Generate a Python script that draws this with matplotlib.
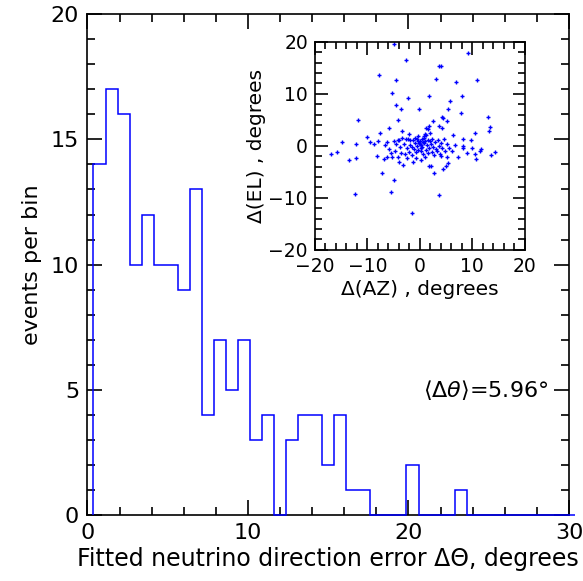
import numpy as np
import matplotlib.pyplot as plt
from matplotlib.ticker import MultipleLocator

# histogram of fitted direction error, bins of 0.75 deg starting at 0.375
bin_width = 0.75
first_edge = 0.375
counts = [14, 17, 16, 10, 12, 10, 10, 9, 13, 4, 7, 5, 7, 3, 4, 0, 3, 4, 4, 2, 4, 1, 1,
          0, 0, 0, 2, 0, 0, 0, 1, 0, 0, 0, 0, 0, 0, 0, 0, 0]
mean_dtheta = 5.96

# inset scatter: delta azimuth / delta elevation (degrees)
d_az = [-4.9, 9.1, -2.7, 3.7, 4.1, -7.8, 3.1, -4.5, 11.0, 6.9, -5.2, -2.2, 1.8, 8.0, 5.8,
        -4.5, -3.6, -0.1, 5.4, 7.8, -11.8, -4.1, 2.5, 4.3, 4.5, 5.1, 13.0, 13.4, 13.2, 1.8,
        3.6, -5.9, -3.3, 1.2, 1.5, 4.3, 10.5, -7.6, -10.0, -14.8, -9.5, -8.7, -8.0, -6.2, -6.6,
        -5.0, -4.1, -0.3, 0.9, 1.0, 6.4, 8.3, 9.7, -12.1, -17.0, -15.7, -13.4, -12.2, -8.1, -6.9,
        -6.2, -5.4, -5.2, -4.2, -3.9, -3.2, -2.4, -1.3, -0.7, 0.3, 1.0, 1.8, 2.2, 2.7, 4.0,
        5.2, 4.4, 5.0, 5.4, 7.3, 8.2, 8.3, 9.0, 9.9, 10.6, 10.8, 11.6, 11.5, 13.6, 14.3,
        -7.2, -5.0, -5.5, -12.3, 3.6, -1.5, 6.8,
        -3.9, -3.3, -2.7, -2.2, -1.8, -1.3, -0.9, -0.5, 0.0, 0.4, 0.8, 1.2, 1.5, 2.0, 2.4,
        2.9, 3.4, 4.0, 4.6, 5.2, -4.6, -3.8, -3.0, -2.5, -1.9, -1.4, -1.0, -0.6, -0.2, 0.2,
        0.5, 0.9, 1.3, 1.7, 2.1, 2.6, 3.1, 3.6, 4.2, 4.8, 5.6, 6.2, -5.8, -4.8, -3.5, -2.8,
        -2.0, -1.5, -0.8, -0.3, 0.3, 0.7, 1.1, 1.6, 2.3, 2.8, 3.3, 3.9, 0.0, 0.6, -0.4, 1.0,
        0.3, -1.1, 1.9, -2.0]
d_el = [19.6, 17.9, 16.6, 15.4, 15.3, 13.7, 12.9, 12.6, 12.6, 12.2, 10.1, 9.2, 9.5, 9.5, 8.6,
        7.8, 7.1, 7.0, 7.1, 6.3, 5.0, 4.9, 4.8, 5.5, 5.3, 4.7, 5.6, 3.7, 2.8, 3.9,
        3.9, 3.5, 2.8, 3.4, 3.3, 3.5, 2.5, 2.4, 1.7, 0.7, 0.8, 0.4, 0.9, 0.8, 0.2,
        1.0, 1.2, 1.9, 1.8, 2.3, 2.1, 1.3, 1.2, 0.3, -1.6, -1.2, -2.7, -2.4, -2.0, -2.6,
        -2.1, -1.3, -2.2, -2.1, -3.2, -3.6, -2.3, -3.1, -2.4, -2.8, -2.1, -3.9, -3.9, -5.2, -2.0,
        -2.1, -4.5, -3.8, -3.3, -2.2, 0.0, -0.4, -1.4, -0.5, -1.5, -2.6, -0.6, -1.0, -1.7, -1.2,
        -5.3, -6.5, -8.8, -9.2, -9.5, -13.0, 0.1,
        1.2, 1.5, 1.3, 1.4, 1.1, 1.2, 1.5, 1.3, 1.0, 1.3, 1.6, 2.0, 1.2, 0.9, 1.4,
        0.8, 1.2, 0.6, 1.4, 0.3, 0.3, -0.2, 0.4, -0.5, 0.2, -0.3, 0.5, 0.0, 0.6, 0.2,
        -0.2, 0.5, 0.1, -0.4, 0.3, -0.3, -0.6, 0.0, -0.5, -0.9, -0.4, -1.0, -0.6, -1.0, -1.3, -1.6,
        -1.1, -1.8, -1.2, -0.8, -1.0, -1.6, -0.8, -1.3, -1.1, -1.7, -1.0, -1.5, 0.3, 0.7, 0.9, 1.0,
        -0.4, -0.6, 2.5, 2.2]

blue = "#0000ff"

fig = plt.figure(figsize=(5.83, 5.81), dpi=100)
ax = fig.add_axes([0.150, 0.1136, 0.826, 0.862])
edges = first_edge + bin_width * np.arange(len(counts) + 1)
ax.stairs(counts, edges, color=blue, linewidth=1.1, baseline=0, zorder=3, clip_on=False)
ax.set_xlim(0, 30)
ax.set_ylim(0, 20)
ax.xaxis.set_major_locator(MultipleLocator(10))
ax.xaxis.set_minor_locator(MultipleLocator(2))
ax.yaxis.set_major_locator(MultipleLocator(5))
ax.yaxis.set_minor_locator(MultipleLocator(1))
ax.tick_params(which="both", direction="in", top=True, right=True, width=1.2, labelsize=16, pad=6)
ax.tick_params(which="major", length=11)
ax.tick_params(which="minor", length=6)
for s in ax.spines.values():
    s.set_linewidth(1.2)
ax.set_xlabel("Fitted neutrino direction error \u0394\u0398, degrees", fontsize=17, labelpad=3)
ax.set_ylabel("events per bin", fontsize=16, labelpad=6)
ax.text(28.7, 5.0, r"$\langle\Delta\theta\rangle$" + "=%.2f\u00b0" % mean_dtheta, ha="right", va="center", fontsize=16)

ins = fig.add_axes([0.540, 0.570, 0.360, 0.358])
ins.plot(d_az, d_el, "+", color=blue, markersize=3.5, markeredgewidth=1.0)
ins.set_xlim(-20, 20)
ins.set_ylim(-20, 20)
ins.xaxis.set_major_locator(MultipleLocator(10))
ins.xaxis.set_minor_locator(MultipleLocator(2))
ins.yaxis.set_major_locator(MultipleLocator(10))
ins.yaxis.set_minor_locator(MultipleLocator(2))
ins.tick_params(which="both", direction="in", top=True, right=True, width=1.2, labelsize=13.5, pad=5)
ins.tick_params(which="major", length=9)
ins.tick_params(which="minor", length=5)
for s in ins.spines.values():
    s.set_linewidth(1.2)
ins.set_xlabel("\u0394(AZ) , degrees", fontsize=14.5, labelpad=3)
ins.set_ylabel("\u0394(EL) , degrees", fontsize=14.5, labelpad=2)

fig.savefig("out.png", dpi=100)
